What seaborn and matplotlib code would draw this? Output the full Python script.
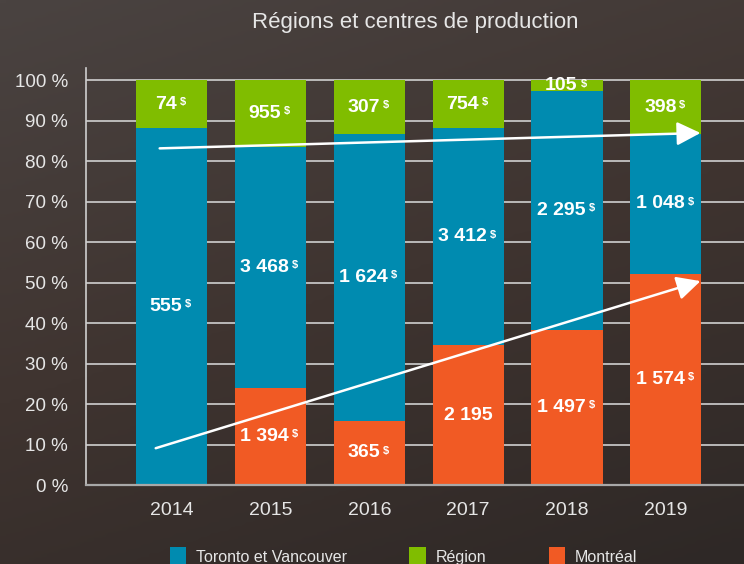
import numpy as np
import pandas as pd
import seaborn as sns
import matplotlib.pyplot as plt
from matplotlib.patches import Patch
from matplotlib.colors import LinearSegmentedColormap

# values (in $)
years = ['2014', '2015', '2016', '2017', '2018', '2019']
montreal = [0, 1394, 365, 2195, 1497, 1574]
toronto = [555, 3468, 1624, 3412, 2295, 1048]
region = [74, 955, 307, 754, 105, 398]
# which labels carry the small "$"
mtl_dollar = [False, True, True, False, True, True]
tor_dollar = [True] * 6
reg_dollar = [True] * 6

yticks = [0, 10, 20, 30, 40, 50, 60, 70, 80, 90, 100]
legend_labels = ['Toronto et Vancouver', 'Région', 'Montréal']
# trend arrows: (start, end) in (category index, %)
arrows = [((-0.12, 83.2), (5.35, 87.0)),
          ((-0.16, 9.1), (5.35, 50.4))]

blue = '#008bb0'
green = '#80bd00'
orange = '#f15a24'
txt = '#e6e6e6'

sns.set_style('white')
plt.rcParams['font.family'] = ['Liberation Sans', 'DejaVu Sans']

tot = np.array(montreal) + np.array(toronto) + np.array(region)
pct_m = np.array(montreal) / tot * 100
pct_t = np.array(toronto) / tot * 100
pct_r = np.array(region) / tot * 100
df = pd.DataFrame({'year': years, 'mtl': pct_m, 'tv': pct_m + pct_t,
                   'reg': pct_m + pct_t + pct_r})

fig = plt.figure(figsize=(7.44, 5.64), dpi=100)
bg = fig.add_axes([0, 0, 1, 1], zorder=-10)
grad = np.linspace(0, 1, 256).reshape(-1, 1) * np.ones((1, 64))
grad = grad * 0.7 + np.linspace(0, 1, 64).reshape(1, -1) * 0.3
cmap = LinearSegmentedColormap.from_list('bg', ['#4a4341', '#3f3430', '#2e2826'])
bg.imshow(grad, cmap=cmap, aspect='auto', extent=[0, 1, 0, 1])
bg.axis('off')

ax = fig.add_axes([0.1156, 0.140, 0.8844, 0.739])
ax.set_facecolor('none')

for col, c in [('reg', green), ('tv', blue), ('mtl', orange)]:
    sns.barplot(data=df, x='year', y=col, color=c, saturation=1, width=0.72,
                errorbar=None, ax=ax, zorder=3, linewidth=0, edgecolor='none')

ax.set_xlim(-0.865, 5.79)
ax.set_ylim(0, 103)
ax.set_xlabel('')
ax.set_ylabel('')
ax.set_yticks(yticks)
ax.set_yticklabels([f'{v} %' for v in yticks])
for v in yticks[1:]:
    ax.axhline(v, color='#d0d0d0', lw=1.2, zorder=1)
ax.tick_params(axis='y', length=0, pad=13, labelsize=13.5, labelcolor=txt)
ax.tick_params(axis='x', length=0, pad=12, labelsize=14, labelcolor=txt)
for s in ['top', 'right']:
    ax.spines[s].set_visible(False)
ax.spines['left'].set_color('#cfcfcf')
ax.spines['left'].set_linewidth(1.2)
ax.spines['bottom'].set_color('#a8a8a8')
ax.spines['bottom'].set_linewidth(1.6)
ax.spines['bottom'].set_zorder(4)


def label(x, y, val, dollar):
    s = f'{val:,}'.replace(',', ' ')
    t = ax.annotate(s, (x, y), xytext=(-4 if dollar else 0, 0), textcoords='offset points',
                    ha='center', va='center', color='white', fontsize=14,
                    fontweight='bold', zorder=6)
    if dollar:
        ax.annotate('$', xy=(1, 1), xycoords=t, xytext=(2, -1), textcoords='offset points',
                    ha='left', va='top', color='white', fontsize=8, fontweight='bold', zorder=6)


for i in range(len(years)):
    if montreal[i]:
        label(i, pct_m[i] / 2, montreal[i], mtl_dollar[i])
    label(i, pct_m[i] + pct_t[i] / 2, toronto[i], tor_dollar[i])
    label(i, pct_m[i] + pct_t[i] + pct_r[i] / 2, region[i], reg_dollar[i])

for (x0, y0), (x1, y1) in arrows:
    ax.annotate('', xy=(x1, y1), xytext=(x0, y0), zorder=7,
                arrowprops=dict(arrowstyle='-|>,head_length=0.8,head_width=0.4',
                                color='white', lw=1.8, mutation_scale=18,
                                shrinkA=0, shrinkB=0))

fig.text(0.558, 0.950, 'Régions et centres de production', ha='center', va='baseline',
         color=txt, fontsize=16)

handles = [Patch(facecolor=c, edgecolor='none') for c in [blue, green, orange]]
fig.legend(handles, legend_labels, loc='upper left', bbox_to_anchor=(0.228, 0.031),
           ncol=3, frameon=False, fontsize=11.5, labelcolor=txt, handlelength=1.05,
           handleheight=1.5, handletextpad=0.6, columnspacing=3.9, borderpad=0,
           borderaxespad=0)

fig.savefig('out.png', dpi=100)
